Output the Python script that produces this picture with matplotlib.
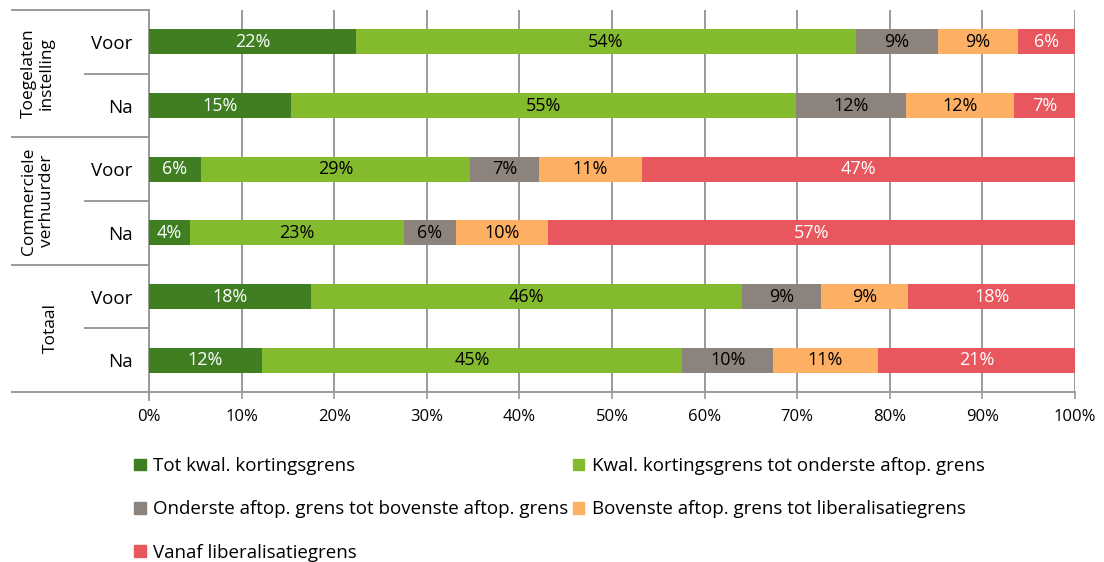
import numpy as np
import matplotlib.pyplot as plt
from matplotlib.patches import Patch

plt.rcParams['font.family'] = ['Open Sans', 'DejaVu Sans']

rows = ['Voor', 'Na', 'Voor', 'Na', 'Voor', 'Na']
groups = ['Toegelaten\ninstelling', 'Commerciele\nverhuurder', 'Totaal']
series = ['Tot kwal. kortingsgrens',
          'Kwal. kortingsgrens tot onderste aftop. grens',
          'Onderste aftop. grens tot bovenste aftop. grens',
          'Bovenste aftop. grens tot liberalisatiegrens',
          'Vanaf liberalisatiegrens']

# shares per row, in percent
tot_kwal = [22.4, 15.3, 5.6, 4.4, 17.5, 12.2]
kwal_onder = [53.9, 54.6, 29.1, 23.1, 46.5, 45.4]
onder_boven = [8.9, 11.9, 7.4, 5.7, 8.6, 9.8]
boven_lib = [8.6, 11.6, 11.1, 9.9, 9.4, 11.3]
vanaf_lib = [6.3, 6.6, 46.8, 56.9, 18.0, 21.3]

colors = ['#3F7F22', '#84BA2E', '#8C837D', '#FDB064', '#E8575E']
text_colors = ['white', 'black', 'black', 'black', 'white']

data = np.array([tot_kwal, kwal_onder, onder_boven, boven_lib, vanaf_lib])

fig = plt.figure(figsize=(11.04, 5.62), dpi=100)
ax = fig.add_axes([149/1104, 1 - 392/562, 926/1104, 382/562])

y = np.arange(len(rows))
left = np.zeros(len(rows))
for k in range(len(series)):
    ax.barh(y, data[k], left=left, height=0.39, color=colors[k],
            zorder=3, label=series[k])
    for i in range(len(rows)):
        ax.text(left[i] + data[k][i] / 2, y[i], '%d%%' % round(data[k][i]),
                ha='center', va='center', color=text_colors[k],
                fontsize=13, zorder=4)
    left += data[k]

ax.set_xlim(0, 100)
ax.set_ylim(5.5, -0.5)
ax.set_xticks(np.arange(0, 101, 10))
ax.set_xticklabels(['%d%%' % v for v in range(0, 101, 10)], fontsize=12)
ax.xaxis.grid(True, color='#9A9A9A', linewidth=1.4, zorder=0)
ax.set_yticks(y)
ax.set_yticklabels(rows, fontsize=13.5)
ax.tick_params(axis='y', length=0, pad=12)
ax.tick_params(axis='x', length=5, color='#9A9A9A', width=1.2, pad=7)
for s in ['top', 'right']:
    ax.spines[s].set_visible(False)
for s in ['left', 'bottom']:
    ax.spines[s].set_color('#9A9A9A')
    ax.spines[s].set_linewidth(1.4)

# category label frame on the left
tr = ax.get_yaxis_transform()
for yy in [-0.5, 1.5, 3.5, 5.5]:
    ax.plot([-0.148, 0], [yy, yy], transform=tr, color='#9A9A9A',
            lw=1.4, clip_on=False)
for yy in [0.5, 2.5, 4.5]:
    ax.plot([-0.069, 0], [yy, yy], transform=tr, color='#9A9A9A',
            lw=1.4, clip_on=False)
ax.plot([0, 0], [5.5, 5.62], transform=tr, color='#9A9A9A', lw=1.4,
        clip_on=False)
for g, label in enumerate(groups):
    xg = -0.12 if '\n' in label else -0.106
    ax.text(xg, 2 * g + 0.5, label, transform=tr, rotation=90,
            ha='center', va='center', fontsize=12.5, linespacing=1.2)

order = [0, 2, 4, 1, 3]
fig.legend([Patch(color=colors[i]) for i in order],
           [series[i] for i in order], ncol=2,
           loc='upper left', bbox_to_anchor=(0.115, 0.2),
           frameon=False, fontsize=13.5, handlelength=0.6,
           handleheight=0.6, handletextpad=0.4, columnspacing=0.25,
           labelspacing=1.35, borderaxespad=0)

fig.savefig('out.png', dpi=100)
